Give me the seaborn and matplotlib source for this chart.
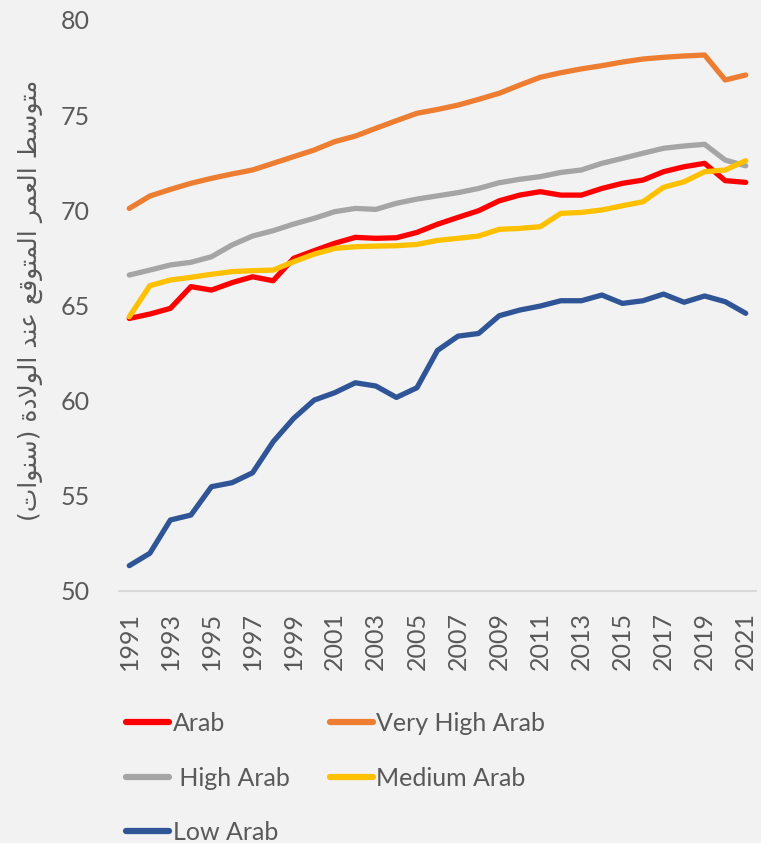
import numpy as np
import pandas as pd
import matplotlib
matplotlib.use("Agg")
import matplotlib.pyplot as plt
import seaborn as sns

# data
years = list(range(1991, 2022))

arab = [64.32, 64.55, 64.85, 65.99, 65.81, 66.20, 66.51, 66.30, 67.48, 67.88,
        68.27, 68.58, 68.53, 68.56, 68.84, 69.27, 69.63, 69.98, 70.50, 70.80,
        70.98, 70.80, 70.80, 71.15, 71.42, 71.59, 72.03, 72.29, 72.47, 71.56, 71.47]
very_high = [70.10, 70.75, 71.10, 71.42, 71.68, 71.91, 72.12, 72.47, 72.82, 73.17,
             73.61, 73.90, 74.31, 74.71, 75.10, 75.30, 75.53, 75.83, 76.15, 76.58,
             76.99, 77.23, 77.43, 77.60, 77.79, 77.95, 78.04, 78.11, 78.16, 76.85, 77.11]
high = [66.60, 66.86, 67.13, 67.27, 67.56, 68.18, 68.65, 68.93, 69.28, 69.58,
        69.93, 70.10, 70.05, 70.37, 70.59, 70.76, 70.93, 71.15, 71.45, 71.63,
        71.77, 71.99, 72.12, 72.47, 72.73, 73.00, 73.26, 73.38, 73.47, 72.64, 72.34]
medium = [64.41, 66.04, 66.34, 66.48, 66.64, 66.78, 66.83, 66.86, 67.30, 67.70,
          68.00, 68.09, 68.12, 68.14, 68.21, 68.42, 68.53, 68.65, 69.00, 69.05,
          69.14, 69.84, 69.89, 70.02, 70.24, 70.45, 71.21, 71.50, 72.03, 72.12, 72.61]
low = [51.33, 51.98, 53.73, 53.99, 55.48, 55.69, 56.21, 57.84, 59.07, 60.03,
       60.42, 60.94, 60.77, 60.17, 60.68, 62.64, 63.39, 63.53, 64.46, 64.76,
       64.97, 65.25, 65.25, 65.55, 65.11, 65.25, 65.60, 65.17, 65.50, 65.20, 64.59]

series_names = ["Arab", "Very High Arab", " High Arab", "Medium Arab", "Low Arab"]
series_colors = ["#FF0000", "#ED7D31", "#A5A5A5", "#FFC000", "#2F5597"]
legend_order = ["Arab", " High Arab", "Low Arab", "Very High Arab", "Medium Arab"]
ylabel = "متوسط العمر المتوقع عند الولادة (سنوات)"


def shape_arabic(text):
    """Minimal Arabic shaping + RTL reordering (matplotlib has no text shaping)."""
    dual = {'ب': 0xFE8F, 'ت': 0xFE95, 'س': 0xFEB1, 'ط': 0xFEC1, 'ع': 0xFEC9,
            'ف': 0xFED1, 'ق': 0xFED5, 'ل': 0xFEDD, 'م': 0xFEE1, 'ن': 0xFEE5}
    right = {'ا': 0xFE8D, 'ة': 0xFE93, 'د': 0xFEA9, 'ذ': 0xFEAB, 'ر': 0xFEAD,
             'ز': 0xFEAF, 'و': 0xFEED}
    out = []
    i = 0
    n = len(text)
    while i < n:
        c = text[i]
        prev_joins = i > 0 and text[i - 1] in dual
        if c == 'ل' and i + 1 < n and text[i + 1] == 'ا':
            out.append(chr(0xFEFC if prev_joins else 0xFEFB))
            i += 2
            continue
        nxt = text[i + 1] if i + 1 < n else ''
        if c in dual:
            next_joins = nxt in dual or nxt in right
            b = dual[c]
            if prev_joins and next_joins:
                out.append(chr(b + 3))
            elif prev_joins:
                out.append(chr(b + 1))
            elif next_joins:
                out.append(chr(b + 2))
            else:
                out.append(chr(b))
        elif c in right:
            out.append(chr(right[c] + 1 if prev_joins else right[c]))
        else:
            out.append(c)
        i += 1
    mirror = {'(': ')', ')': '('}
    return ''.join(mirror.get(ch, ch) for ch in reversed(out))


df = pd.DataFrame({
    "year": years * 5,
    "value": arab + very_high + high + medium + low,
    "series": sum([[s] * len(years) for s in series_names], []),
})

sns.set_style("white")
plt.rcParams['font.family'] = ['Lato', 'DejaVu Sans']

fig = plt.figure(figsize=(7.61, 8.43), dpi=100, facecolor="#F2F2F2")
ax = fig.add_axes([119 / 761, 1 - 591 / 843, 637 / 761, 571 / 843])
ax.set_facecolor("#F2F2F2")

sns.lineplot(data=df, x="year", y="value", hue="series", hue_order=series_names,
             palette=series_colors, linewidth=3.8, ax=ax, legend=True)

ax.set_xlim(1990.5, 2021.5)
ax.set_ylim(50, 80)
ax.set_xticks(years[::2])
ax.set_xticklabels([str(y) for y in years[::2]], rotation=90)
ax.set_yticks([50, 55, 60, 65, 70, 75, 80])
ax.tick_params(axis='both', length=0, labelsize=18, labelcolor="#595959")
ax.tick_params(axis='y', pad=21)
ax.tick_params(axis='x', pad=15)
ax.set_xlabel("")
ax.set_ylabel("")
for side in ["left", "right", "top"]:
    ax.spines[side].set_visible(False)
ax.spines["bottom"].set_color("#D9D9D9")
ax.spines["bottom"].set_linewidth(1.5)

fig.text(30 / 761, 1 - 300 / 843, shape_arabic(ylabel), rotation=90,
         ha="center", va="center", fontsize=18, color="#595959",
         family=['DejaVu Sans'])

handles, labels = ax.get_legend_handles_labels()
lookup = dict(zip(labels, handles))
ax.get_legend().remove()
leg = fig.legend([lookup[l] for l in legend_order], legend_order, ncol=2,
                 loc="upper left", bbox_to_anchor=(126 / 761, 1 - 712 / 843),
                 frameon=False, fontsize=18, handlelength=1.72, handletextpad=0.15,
                 columnspacing=1.6, labelspacing=1.26, borderpad=0,
                 borderaxespad=0, labelcolor="#595959")
for line in leg.get_lines():
    line.set_linewidth(4.5)

fig.savefig("out.png", dpi=100, facecolor=fig.get_facecolor())
